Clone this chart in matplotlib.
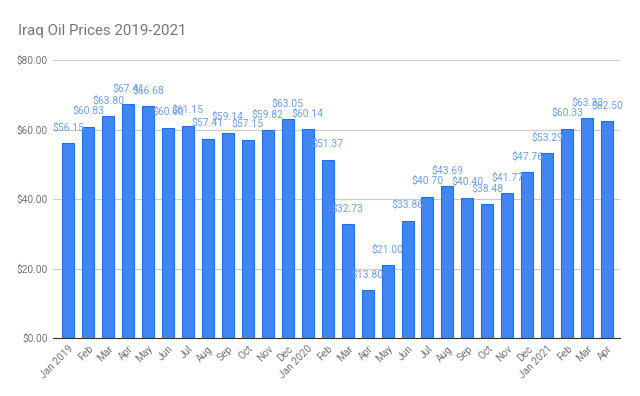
import numpy as np
import matplotlib.pyplot as plt

plt.rcParams["font.family"] = ["Roboto", "DejaVu Sans"]

months = ["Jan 2019", "Feb", "Mar", "Apr", "May", "Jun", "Jul", "Aug", "Sep", "Oct",
          "Nov", "Dec", "Jan 2020", "Feb", "Mar", "Apr", "May", "Jun", "Jul", "Aug",
          "Sep", "Oct", "Nov", "Dec", "Jan 2021", "Feb", "Mar", "Apr"]
prices = [56.15, 60.83, 63.80, 67.41, 66.68, 60.60, 61.15, 57.41, 59.14, 57.15,
          59.82, 63.05, 60.14, 51.37, 32.73, 13.80, 21.00, 33.86, 40.70, 43.69,
          40.40, 38.48, 41.77, 47.76, 53.29, 60.33, 63.33, 62.50]

fig = plt.figure(figsize=(6.4, 3.96), dpi=100)
ax = fig.add_axes([0.083, 0.146, 0.886, 0.702])

x = np.arange(len(months))
ax.bar(x, prices, width=0.6, color="#4285f4", edgecolor="#1a73e8", linewidth=0.8, zorder=3)

for xi, v in zip(x, prices):
    ax.text(xi, v + 3.0, f"${v:.2f}", ha="center", va="bottom",
            fontsize=7.5, color="#6fa0f0", zorder=4)

ax.set_xlim(-0.75, 27.65)
ax.set_ylim(0, 80)
ax.set_yticks([0, 20, 40, 60, 80])
ax.set_yticklabels([f"${t:.2f}" for t in [0, 20, 40, 60, 80]], fontsize=7.3, color="#757575")
ax.set_xticks(x)
ax.set_xticklabels(months, rotation=45, ha="right", rotation_mode="anchor",
                   fontsize=7.3, color="#757575")
ax.tick_params(length=0, pad=4)
ax.grid(axis="y", color="#cccccc", linewidth=0.8, zorder=0)
for s in ["top", "right", "left"]:
    ax.spines[s].set_visible(False)
ax.spines["bottom"].set_color("#333333")
ax.spines["bottom"].set_zorder(5)

fig.text(0.028, 0.922, "Iraq Oil Prices 2019-2021", fontsize=10.8, color="#757575",
         va="center")

fig.savefig("out.png", dpi=100)
